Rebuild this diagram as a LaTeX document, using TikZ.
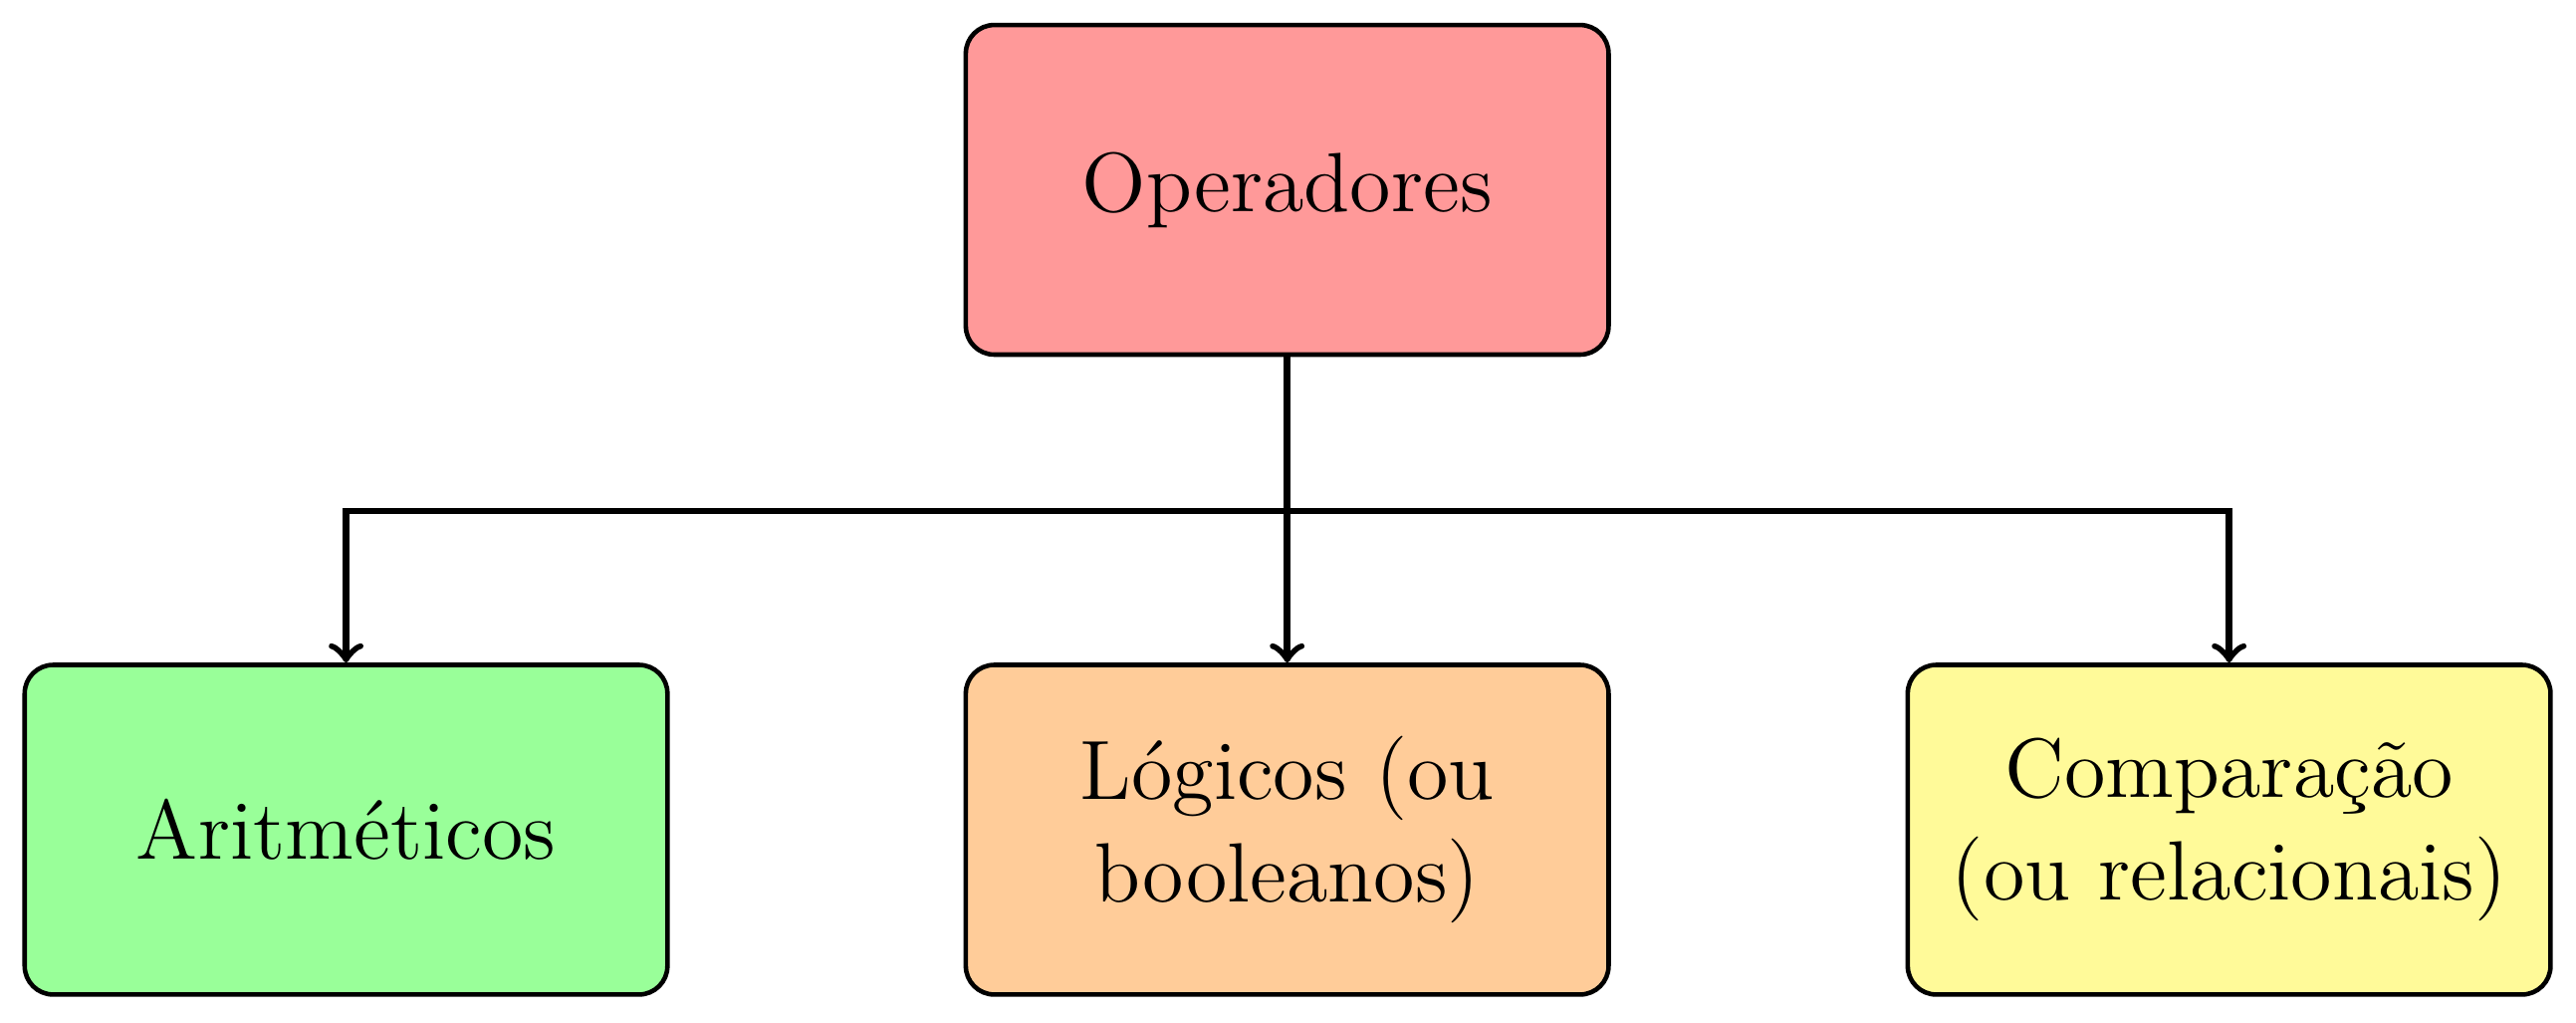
\documentclass[tikz,border=0pt]{standalone}
\usetikzlibrary{positioning}
\begin{document}
\begin{tikzpicture}[
  box/.style={draw, thick, rounded corners=5pt, minimum width=3.96cm, minimum height=2.03cm, text width=3.55cm, align=center, font=\fontsize{14.75}{18.1}\selectfont},
  conn/.style={very thick, ->}
]
\useasboundingbox (0,0) rectangle (15.87,6.30);
\node[box, fill=red!40] (top) at (7.93,5.131) {Operadores};
\node[box, fill=green!40] (ari) at (2.132,1.19) {Aritméticos};
\node[box, fill=orange!40] (log) at (7.93,1.19) {Lógicos (ou booleanos)};
\node[box, fill=yellow!40] (cmp) at (13.733,1.19) {Comparação (ou relacionais)};
\coordinate (bar) at (7.93,3.153);
\draw[conn] (top.south) -- (bar) -| (ari.north);
\draw[conn] (top.south) -- (log.north);
\draw[conn] (bar) -| (cmp.north);
\end{tikzpicture}
\end{document}
